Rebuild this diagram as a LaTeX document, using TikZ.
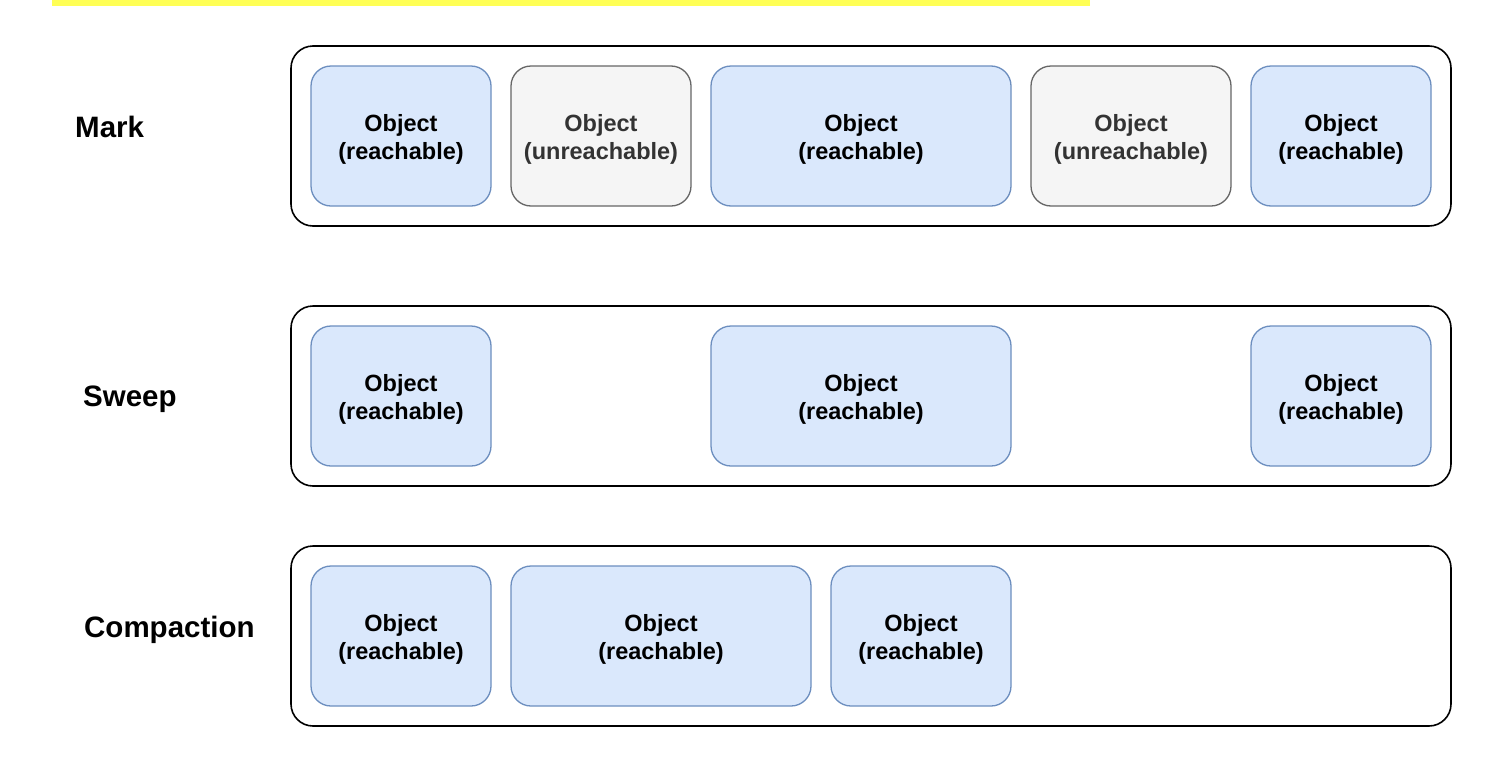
\documentclass[tikz,border=0pt]{standalone}
\usepackage{fontspec}
\setmainfont{Liberation Sans}
\definecolor{yellowbar}{HTML}{FFFF55}
\definecolor{reachfill}{HTML}{DAE8FC}
\definecolor{reachline}{HTML}{6C8EBF}
\definecolor{unfill}{HTML}{F5F5F5}
\definecolor{unline}{HTML}{666666}
\definecolor{untext}{HTML}{333333}
\tikzset{
  container/.style={draw=black, fill=white, line width=1.6pt, rounded corners=22pt,
    minimum width=1160pt, minimum height=180pt, inner sep=0pt},
  objbox/.style={rounded corners=20pt, line width=1.3pt, minimum height=140pt,
    inner sep=0pt, align=center, text height=52pt, text depth=5pt,
    font=\bfseries\fontsize{23.5}{28}\selectfont},
  reach/.style={objbox, draw=reachline, fill=reachfill, text=black},
  unreach/.style={objbox, draw=unline, fill=unfill, text=untext},
  phase/.style={anchor=base west, inner sep=0pt, font=\bfseries\fontsize{29.5}{34}\selectfont}
}
\begin{document}
\begin{tikzpicture}[x=1pt,y=-1pt]
\useasboundingbox (0,0) rectangle (1496,766);
\fill[yellowbar] (52,0) rectangle (1090,6);
% Mark
\node[phase] (lmark) at (75,137) {Mark};
\node[container] (cmark) at (871,136) {};
\node[reach, minimum width=180pt] (m1) at (401,136) {Object\\(reachable)};
\node[unreach, minimum width=180pt] (m2) at (601,136) {Object\\(unreachable)};
\node[reach, minimum width=300pt] (m3) at (861,136) {Object\\(reachable)};
\node[unreach, minimum width=200pt] (m4) at (1131,136) {Object\\(unreachable)};
\node[reach, minimum width=180pt] (m5) at (1341,136) {Object\\(reachable)};
% Sweep
\node[phase] (lsweep) at (83,406) {Sweep};
\node[container] (csweep) at (871,396) {};
\node[reach, minimum width=180pt] (s1) at (401,396) {Object\\(reachable)};
\node[reach, minimum width=300pt] (s2) at (861,396) {Object\\(reachable)};
\node[reach, minimum width=180pt] (s3) at (1341,396) {Object\\(reachable)};
% Compaction
\node[phase] (lcomp) at (84,637) {Compaction};
\node[container] (ccomp) at (871,636) {};
\node[reach, minimum width=180pt] (c1) at (401,636) {Object\\(reachable)};
\node[reach, minimum width=300pt] (c2) at (661,636) {Object\\(reachable)};
\node[reach, minimum width=180pt] (c3) at (921,636) {Object\\(reachable)};
\end{tikzpicture}
\end{document}
